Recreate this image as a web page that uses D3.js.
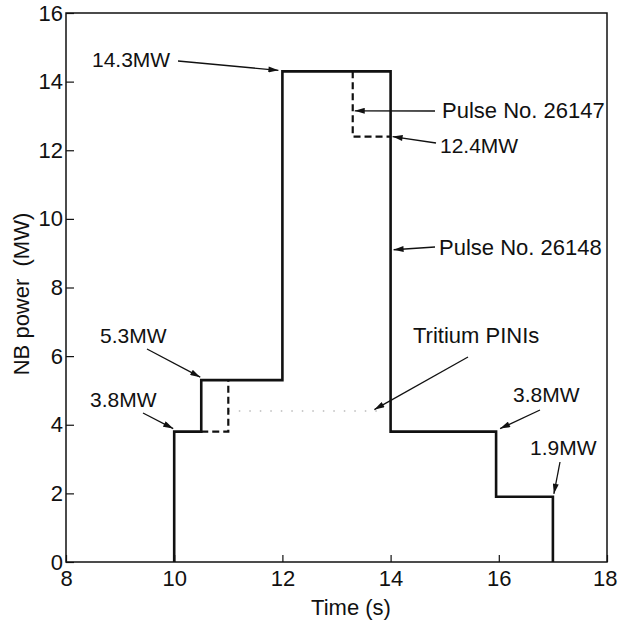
<!DOCTYPE html>
<html>
<head>
<meta charset="utf-8">
<script src="https://cdn.jsdelivr.net/npm/d3@7"></script>
<style>
  body { margin: 0; background: #fff; }
  text { font-family: "Liberation Sans", Arial, Helvetica, sans-serif; fill: #111; }
</style>
</head>
<body>
<div id="chart"></div>
<script>
// Pulse No. 26148 (solid)
var solidTime  = [10, 10, 10.5, 12, 14, 15.95, 17];
var solidPower = [0, 3.8, 5.3, 14.3, 3.8, 1.9, 0];

// Pulse No. 26147 (dashed, only where it differs)
var dashTimeA  = [10.5, 11];
var dashPowerA = [3.8, 5.3];
var dashTimeB  = [13.3, 13.3, 14];
var dashPowerB = [14.3, 12.4, 12.4];

// faint tritium PINI trace
var tritTime  = [11, 13.9];
var tritPower = [4.4, 4.4];

var xTicks = [8, 10, 12, 14, 16, 18];
var yTicks = [0, 2, 4, 6, 8, 10, 12, 14, 16];

var labels    = ["14.3MW", "Pulse No. 26147", "12.4MW", "Pulse No. 26148", "Tritium PINIs", "3.8MW", "1.9MW", "5.3MW", "3.8MW"];
var targetsT  = [12, 13.3, 14, 14, 13.7, 15.95, 17, 10.5, 10];
var targetsP  = [14.3, 13.15, 12.4, 9.1, 4.5, 3.8, 1.9, 5.3, 3.8];

function powerChart()
{
  var W = 618, H = 626;
  var margin = {top: 13, right: 11, bottom: 64, left: 66};
  var width = W - margin.left - margin.right;
  var height = H - margin.top - margin.bottom;

  var svg = d3.select("#chart")
              .append("svg")
              .attr("width", W)
              .attr("height", H);

  var defs = svg.append("defs");
  defs.append("marker")
      .attr("id", "arrow")
      .attr("viewBox", "0 0 10 6")
      .attr("refX", 10)
      .attr("refY", 3)
      .attr("markerUnits", "userSpaceOnUse")
      .attr("markerWidth", 11)
      .attr("markerHeight", 6)
      .attr("orient", "auto")
      .append("path")
      .attr("d", "M0,0 L10,3 L0,6 Z")
      .attr("fill", "#111");

  var g = svg.append("g")
             .attr("transform", "translate(" + margin.left + "," + margin.top + ")");

  var x = d3.scaleLinear().domain([8, 18]).range([0, width]);
  var y = d3.scaleLinear().domain([0, 16]).range([height, 0]);

  // X axis (ticks point inward)
  var xAxis = g.append("g")
    .attr("transform", "translate(0," + height + ")")
    .call(d3.axisBottom(x).tickValues(xTicks).tickSize(-7).tickPadding(12).tickFormat(d3.format("d")));
  xAxis.select(".domain").remove();
  xAxis.selectAll("line").attr("stroke", "#111").attr("stroke-width", 1.2);
  xAxis.selectAll("text").style("font-size", "22px").attr("dy", "0.55em");
  // keep the last label inside the page
  xAxis.selectAll("text")
    .filter(function(d) { return d === 18; })
    .attr("text-anchor", "end")
    .attr("x", 10);

  // Y axis
  var yAxis = g.append("g")
    .call(d3.axisLeft(y).tickValues(yTicks).tickSize(-8).tickPadding(3).tickFormat(d3.format("d")));
  yAxis.select(".domain").remove();
  yAxis.selectAll("line").attr("stroke", "#111").attr("stroke-width", 1.2);
  yAxis.selectAll("text").style("font-size", "22px");

  // frame
  g.append("rect")
    .attr("width", width)
    .attr("height", height)
    .attr("fill", "none")
    .attr("stroke", "#111")
    .attr("stroke-width", 1.5);

  var line = d3.line()
    .x(function(d) { return x(d[0]); })
    .y(function(d) { return y(d[1]); })
    .curve(d3.curveStepAfter);

  // faint tritium trace
  g.append("path")
    .datum(d3.zip(tritTime, tritPower))
    .attr("fill", "none")
    .attr("stroke", "#bbb")
    .attr("stroke-width", 1.5)
    .attr("stroke-dasharray", "1.5,9")
    .attr("d", line);

  // dashed pulse 26147
  [d3.zip(dashTimeA, dashPowerA), d3.zip(dashTimeB, dashPowerB)].forEach(function(seg) {
    g.append("path")
      .datum(seg)
      .attr("fill", "none")
      .attr("stroke", "#111")
      .attr("stroke-width", 2.2)
      .attr("stroke-dasharray", "7,4")
      .attr("d", line);
  });

  // solid pulse 26148
  g.append("path")
    .datum(d3.zip(solidTime, solidPower))
    .attr("fill", "none")
    .attr("stroke", "#111")
    .attr("stroke-width", 2.6)
    .attr("stroke-linejoin", "miter")
    .attr("d", line);

  // annotations: text position, font size, arrow tail, arrow tip offset (pixels)
  var textPos = [[92, 67], [442, 118], [440, 153], [439, 255], [413, 343], [513, 402], [530, 455], [100, 343], [90, 407]];
  var fSize   = [21, 22, 21, 22, 22, 21, 21, 21, 21];
  var tails   = [[178, 61], [435, 111], [436, 143], [435, 247], [468, 357], [540, 410], [560, 462], [147, 349], [143, 413]];
  var tipOff  = [[-4, -1], [2, 0], [2, 0], [3, 0], [0, 2], [4, -3], [1, -3], [-1, -3], [-1, -3]];

  labels.forEach(function(lab, i) {
    var tx = margin.left + x(targetsT[i]) + tipOff[i][0];
    var ty = margin.top + y(targetsP[i]) + tipOff[i][1];
    svg.append("line")
      .attr("x1", tails[i][0]).attr("y1", tails[i][1])
      .attr("x2", tx).attr("y2", ty)
      .attr("stroke", "#111")
      .attr("stroke-width", 1.3)
      .attr("marker-end", "url(#arrow)");
    svg.append("text")
      .attr("x", textPos[i][0])
      .attr("y", textPos[i][1])
      .style("font-size", fSize[i] + "px")
      .text(lab);
  });

  // axis titles
  svg.append("text")
    .attr("x", 351)
    .attr("y", 615)
    .attr("text-anchor", "middle")
    .style("font-size", "22px")
    .text("Time (s)");

  svg.append("text")
    .attr("transform", "translate(29," + 294 + ") rotate(-90)")
    .attr("text-anchor", "middle")
    .style("font-size", "22px")
    .style("white-space", "pre")
    .text("NB power  (MW)");
}

powerChart();
</script>
</body>
</html>
